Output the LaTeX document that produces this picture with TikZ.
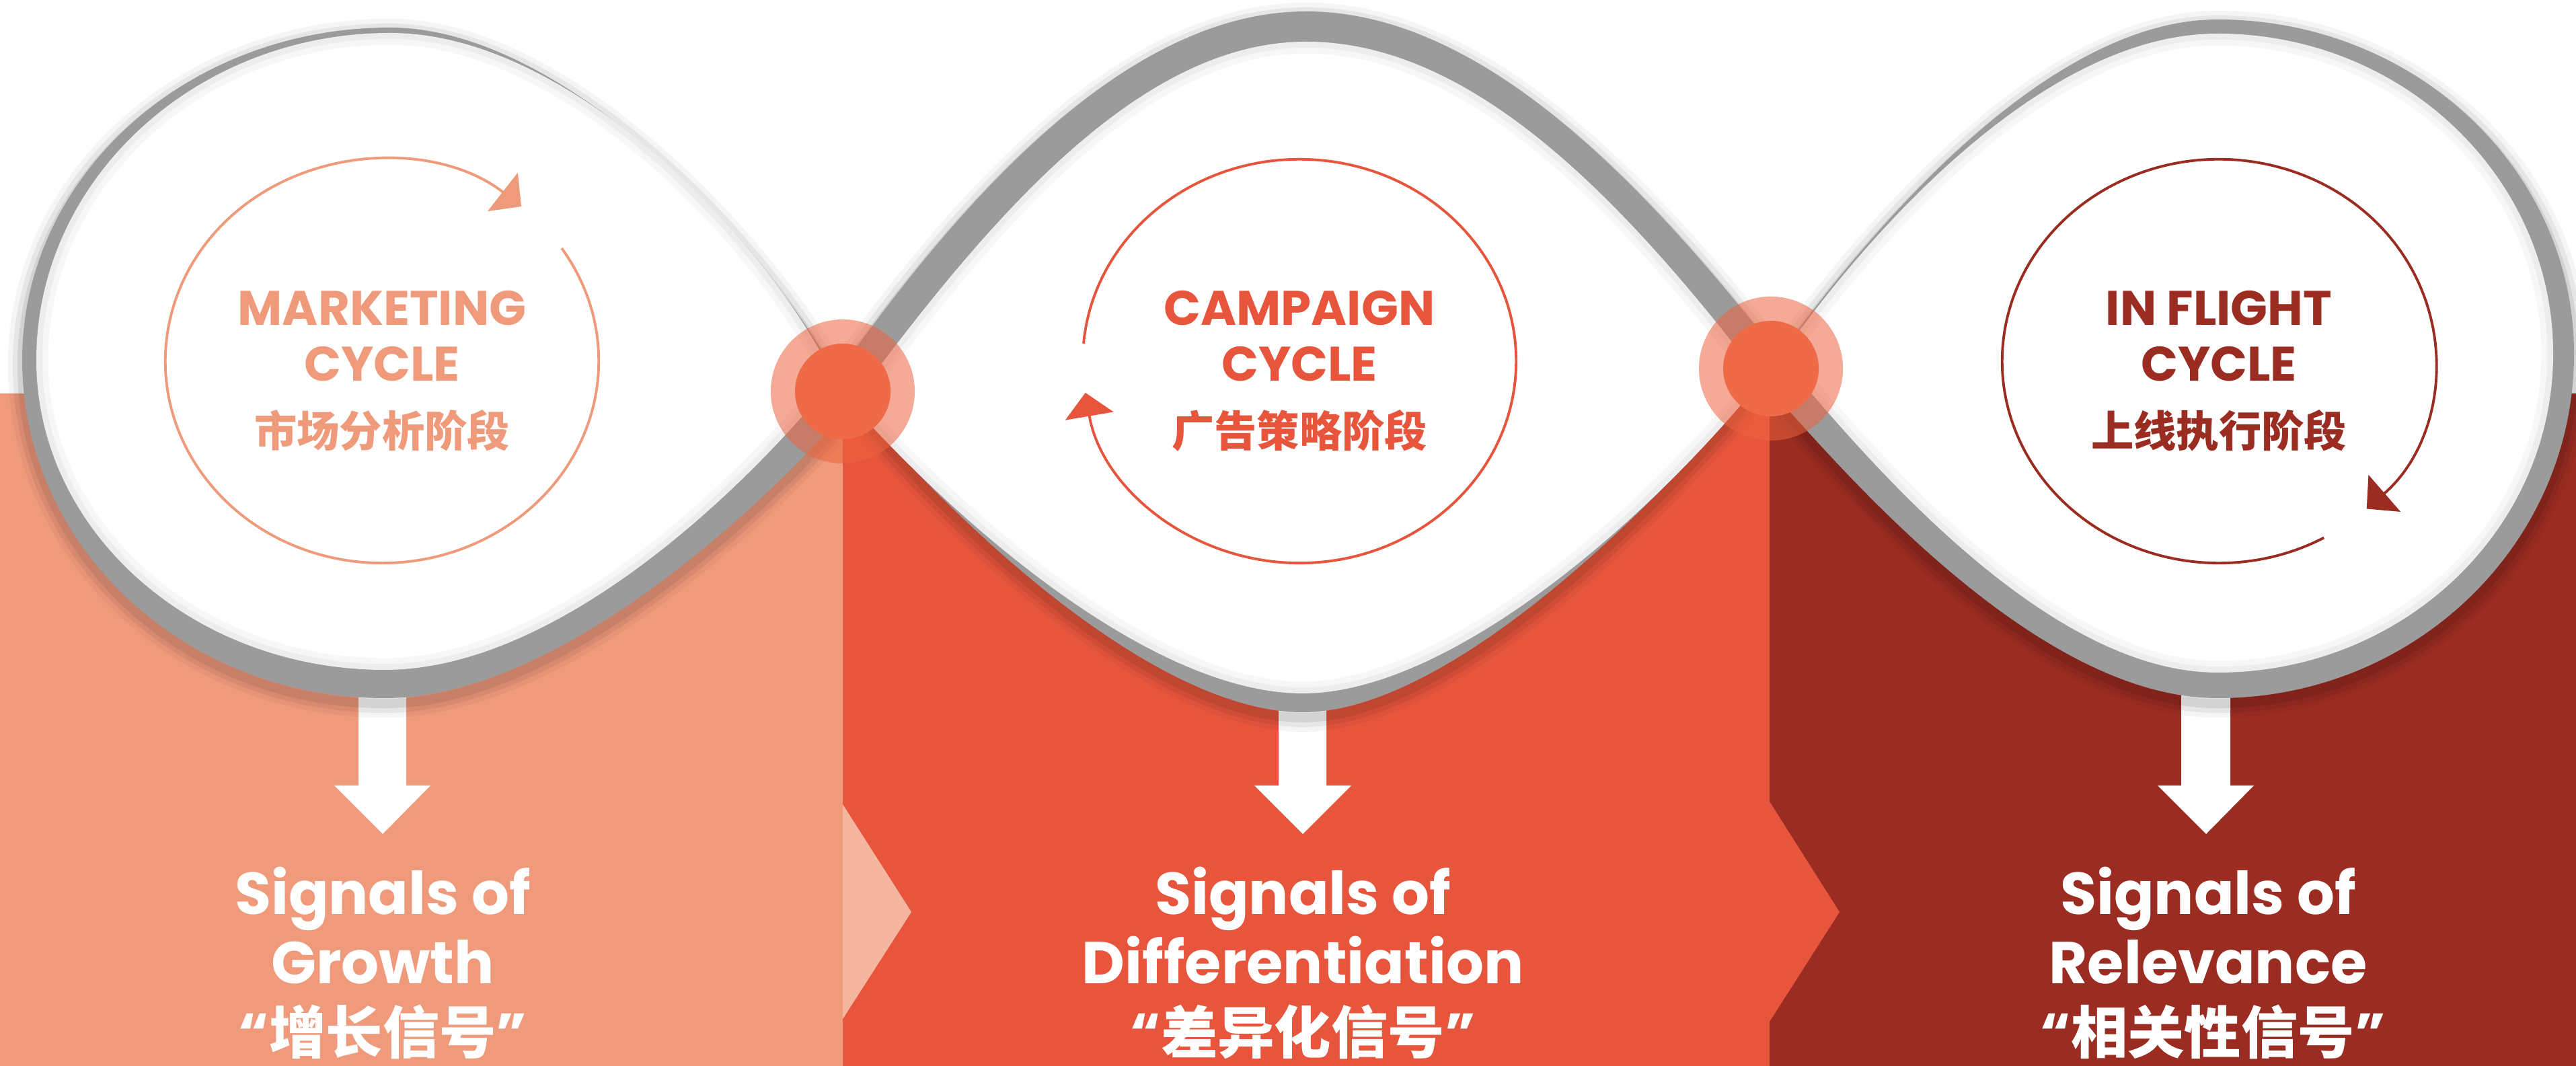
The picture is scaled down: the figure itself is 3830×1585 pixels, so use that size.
\documentclass[tikz,border=0pt]{standalone}
\usepackage{fontspec}
\newfontfamily\hdfont{Poppins}
\newfontfamily\cjkfont{Noto Sans CJK SC}
\usetikzlibrary{arrows.meta}
\definecolor{salm}{HTML}{F09A7C}
\definecolor{redc}{HTML}{E8553D}
\definecolor{darkc}{HTML}{9B2C22}
\definecolor{litec}{HTML}{F5B6A0}
\definecolor{ribgray}{HTML}{9B9B9B}
\definecolor{nodeor}{HTML}{EC633D}
\definecolor{nodeic}{HTML}{EF6A46}
% ring contours (x,y in 0.01cm units, y up)
\newcommand\ringLo{(1266,984) .. controls (1169,1192) and (850,1544) .. (580,1544) .. controls (278,1544) and (33,1323) .. (33,1050) .. controls (33,772) and (274,547) .. (572,547) .. controls (850,547) and (1175,875) .. cycle}
\newcommand\ringLi{(1240,1022) .. controls (1150,1215) and (855,1536) .. (580,1536) .. controls (290,1536) and (54,1317) .. (54,1050) .. controls (54,796) and (286,589) .. (572,589) .. controls (830,589) and (1110,860) .. cycle}
\newcommand\ringMo{(1240,1022) .. controls (1450,1320) and (1690,1568) .. (1942,1568) .. controls (2194,1568) and (2432,1330) .. (2647,1054) .. controls (2467,832) and (2154,526) .. (1937,526) .. controls (1720,526) and (1420,800) .. cycle}
\newcommand\ringMi{(1266,984) .. controls (1480,1275) and (1700,1523) .. (1942,1523) .. controls (2184,1523) and (2405,1300) .. (2619,1020) .. controls (2450,810) and (2154,554) .. (1937,554) .. controls (1720,554) and (1440,790) .. cycle}
\newcommand\ringRo{(2619,1020) .. controls (2745,1200) and (3027,1556) .. (3297,1556) .. controls (3590,1556) and (3827,1333) .. (3827,1059) .. controls (3827,776) and (3590,547) .. (3297,547) .. controls (3019,547) and (2722,907) .. cycle}
\newcommand\ringRi{(2647,1054) .. controls (2760,1215) and (3027,1535) .. (3297,1535) .. controls (3572,1535) and (3796,1322) .. (3796,1059) .. controls (3796,797) and (3572,585) .. (3297,585) .. controls (3030,585) and (2750,935) .. cycle}
\tikzset{
  ribbon/.style={fill=ribgray},
  inside/.style={fill=white},
  halo/.style={draw=black, line join=round, fill=none},
  headtxt/.style={font=\hdfont\bfseries\fontsize{20.5}{24}\selectfont, anchor=base, inner sep=0pt},
  cjktxt/.style={font=\cjkfont\bfseries\fontsize{18}{22}\selectfont, anchor=base, inner sep=0pt},
  sigtxt/.style={font=\hdfont\bfseries\fontsize{25}{30}\selectfont, text=white, anchor=base, inner sep=0pt},
  sigcjk/.style={font=\cjkfont\bfseries\fontsize{24}{28}\selectfont, text=white, anchor=base, inner sep=0pt},
  cyc/.style={line width=1.1pt, -{Triangle[width=20.5pt,length=10pt]}},
  nodeout/.style={circle, minimum size=2.14cm, inner sep=0pt, fill=nodeor, fill opacity=0.54},
  nodein/.style={circle, minimum size=1.42cm, inner sep=0pt, fill=nodeic},
  downarrow/.style={fill=white},
}
\newcommand\drawring[2]{%
  \begin{scope}[yshift=-0.08cm]
    \draw[halo, draw opacity=0.04, line width=12pt] #1;
    \draw[halo, draw opacity=0.06, line width=8pt] #1;
    \draw[halo, draw opacity=0.08, line width=4pt] #1;
  \end{scope}
  \fill[ribbon] #1;
  \fill[inside] #2;
  \begin{scope}
    \clip #2;
    \draw[halo, draw opacity=0.03, line width=10pt] #2;
    \draw[halo, draw opacity=0.04, line width=5pt] #2;
  \end{scope}
}
\begin{document}
\begin{tikzpicture}[x=0.01cm,y=0.01cm]
\path[use as bounding box] (0,0) rectangle (3830,1585);
\clip (0,0) rectangle (3830,1585);
\fill[white] (0,0) rectangle (3830,1585);
% colour bands
\fill[salm] (0,0) rectangle (1253,1000);
\fill[redc] (1253,0) rectangle (2631,1000);
\fill[darkc] (2631,0) rectangle (3830,1000);
\fill[litec] (1253,389) -- (1355,229) -- (1253,70) -- cycle;
\fill[redc] (2631,393) -- (2735,229) -- (2631,66) -- cycle;
% down arrows
\fill[downarrow] (533,620) -- (604,620) -- (604,417) -- (640,417) -- (569,345) -- (497,417) -- (533,417) -- cycle;
\fill[downarrow] (1901,600) -- (1972,600) -- (1972,417) -- (2009,417) -- (1937,345) -- (1865,417) -- (1901,417) -- cycle;
\fill[downarrow] (3243,620) -- (3316,620) -- (3316,417) -- (3351,417) -- (3280,345) -- (3208,417) -- (3243,417) -- cycle;
% rings
\drawring{\ringLo}{\ringLi}
\drawring{\ringMo}{\ringMi}
\drawring{\ringRo}{\ringRi}
% junction nodes
\node[nodeout] (n1o) at (1253,1003) {};
\node[nodein] (n1) at (1253,1003) {};
\node[nodeout] (n2o) at (2633,1037) {};
\node[nodein] (n2) at (2633,1037) {};
% cycle arrows
\draw[cyc, salm] (568,1048) ++(34:3.22cm and 3cm) arc[start angle=34, end angle=-310, x radius=3.22cm, y radius=3cm];
\draw[cyc, redc] (1932,1048) ++(175:3.22cm and 3cm) arc[start angle=175, end angle=-171, x radius=3.22cm, y radius=3cm];
\draw[cyc, darkc] (3299,1048) ++(-61:3.22cm and 3cm) arc[start angle=-61, end angle=-407, x radius=3.22cm, y radius=3cm];
% ring texts
\node[headtxt, text=salm] (mk1) at (568,1101) {MARKETING};
\node[headtxt, text=salm] (mk2) at (568,1018) {CYCLE};
\node[cjktxt, text=salm] (mk3) at (568,920) {市场分析阶段};
\node[headtxt, text=redc] (cp1) at (1932,1101) {CAMPAIGN};
\node[headtxt, text=redc] (cp2) at (1932,1018) {CYCLE};
\node[cjktxt, text=redc] (cp3) at (1932,920) {广告策略阶段};
\node[headtxt, text=darkc] (fl1) at (3299,1101) {IN FLIGHT};
\node[headtxt, text=darkc] (fl2) at (3299,1018) {CYCLE};
\node[cjktxt, text=darkc] (fl3) at (3299,920) {上线执行阶段};
% bottom texts
\node[sigtxt] (g1) at (569,225) {Signals of};
\node[sigtxt] (g2) at (569,122) {Growth};
\node[sigcjk] (g3) at (569,18) {{\hdfont “}增长信号{\hdfont ”}};
\node[sigtxt] (d1) at (1937,225) {Signals of};
\node[sigtxt] (d2) at (1937,122) {Differentiation};
\node[sigcjk] (d3) at (1937,18) {{\hdfont “}差异化信号{\hdfont ”}};
\node[sigtxt] (r1) at (3283,225) {Signals of};
\node[sigtxt] (r2) at (3283,122) {Relevance};
\node[sigcjk] (r3) at (3290,18) {{\hdfont “}相关性信号{\hdfont ”}};
\end{tikzpicture}
\end{document}
